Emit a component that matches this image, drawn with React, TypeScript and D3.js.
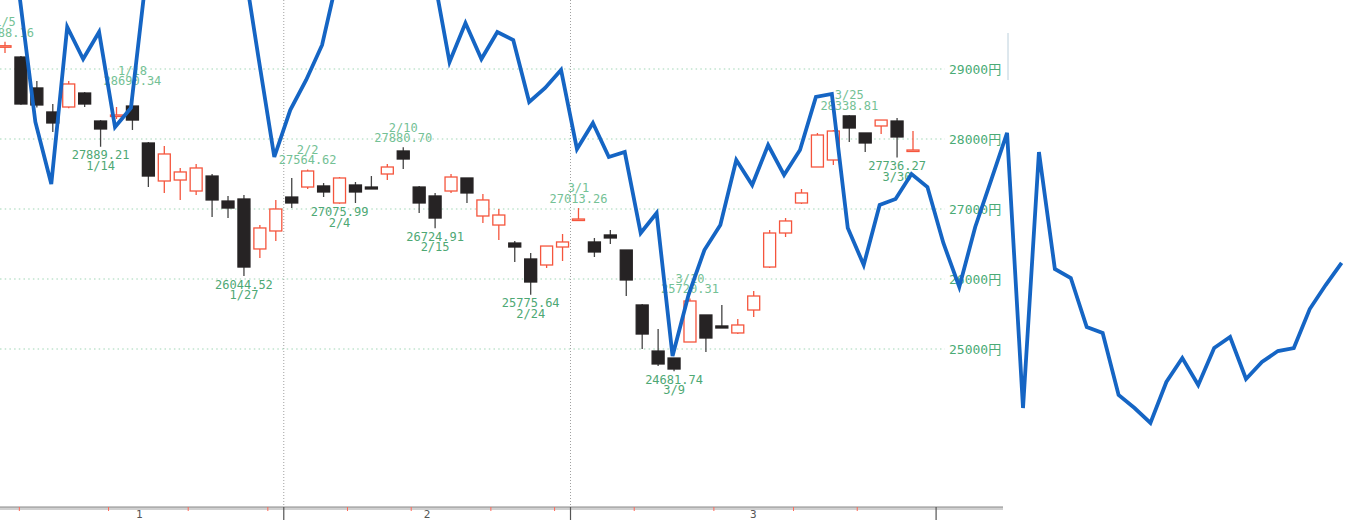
import React from "react";
import * as d3 from "d3";

const W = 1361;
const H = 528;

// Candles (trading days, Jan 5 – Mar 31)
const dates = ["1/5","1/6","1/7","1/11","1/12","1/13","1/14","1/17","1/18","1/19","1/20","1/21","1/24","1/25","1/26","1/27","1/28","1/31",
  "2/1","2/2","2/3","2/4","2/7","2/8","2/9","2/10","2/14","2/15","2/16","2/17","2/18","2/21","2/22","2/24","2/25","2/28",
  "3/1","3/2","3/3","3/4","3/7","3/8","3/9","3/10","3/11","3/14","3/15","3/16","3/17","3/18","3/22","3/23","3/24","3/25","3/28","3/29","3/30","3/31"];
const opens = [29320,29171,28729,28386,28457,28657,28257,28330,28471,27943,27400,27414,27257,27471,27114,27143,26429,26686,
  27171,27314,27329,27086,27343,27314,27500,27829,27314,27186,27257,27443,26900,26771,26514,26286,26200,26457,
  26843,26529,26629,26414,25629,24971,24871,25100,25486,25329,25229,25557,26171,26657,27086,27600,27700,28330,28086,28186,28257,27829];
const highs = [29388.16,29186,28829,28500,28829,28670,28270,28457,28690.34,27957,27900,27586,27643,27500,27186,27200,26771,27129,
  27443,27564.62,27371,27457,27386,27471,27643,27880.70,27329,27229,27500,27443,27214,27000,26543,26371,26471,26643,
  27013.26,26586,26700,26414,25643,25286,24871,25720.31,25486,25629,25429,25829,26700,26871,27286,28086,28129,28338.81,28086,28271,28300,28114];
const lows = [29229,28490,28450,28100,28440,28457,27889.21,28286,28129,27314,27229,27129,27200,26886,26871,26044.52,26300,26543,
  27014,27286,27171,27075.99,27086,27286,27414,27571,26943,26724.91,27229,27086,26800,26557,26243,25775.64,26157,26257,
  26843,26314,26500,25757,25000,24757,24681.74,25100,24957,25300,25214,25457,26157,26600,27071,27600,27629,27957,27814,28071,27736.27,27814];
const closes = [29332,28500,28486,28229,28786,28500,28143,28343,28271,27471,27786,27529,27586,27129,27014,26171,26729,27000,
  27086,27543,27243,27443,27243,27286,27600,27714,27086,26871,27457,27229,27129,26914,26457,25957,26471,26529,
  26857,26386,26586,25986,25214,24786,24714,25686,25157,25300,25343,25757,26657,26829,27229,28057,28114,28157,27943,28271,28029,27843];

// Annotated highs / lows (candle index)
const highLabelIdx = [0, 8, 19, 25, 36, 43, 53];
const lowLabelIdx = [6, 15, 21, 27, 33, 42, 56];

// Overlay blue line (index 1 .. 84), values in price units
const lineStart = 1;
const lineValues = [30057,28243,27357,29600,29143,29529,28171,28443,
  30414,31129,30986,31271,30843,31129,30629,29171,27743,28414,28843,29343,
  30343,30986,31271,30843,31414,31129,30343,29100,29657,29143,29529,29414,28529,28729,28986,
  27857,28229,27743,27814,26657,26943,24900,25771,26414,26771,27700,27343,27914,27486,27843,28600,28643,
  26729,26200,27057,27143,27500,27314,26514,25886,26743,27414,28086,
  24157,27814,26143,26014,25314,25229,24343,24157,23943,24529,24871,24486,25014,25171,24571,24814,24971,25014,25571,25914,26229];

const yTicks = [25000, 26000, 27000, 28000, 29000];
const monthEdges = [-0.63, 17.5, 35.5, 58.45];
const monthLabels = ["1", "2", "3"];
const weekTicks = [0.9, 6.5, 11.5, 16.5, 21.5, 25.5, 30.5, 34.5, 39.5, 44.5, 49.5, 53.5];

export default function App() {
  const x = d3.scaleLinear().domain([0, 57]).range([5, 913]);
  const y = d3.scaleLinear().domain([25000, 29000]).range([349, 69]);
  const bodyW = 12;
  const red = "#f5553d";
  const dark = "#262324";
  const axisY = 507;

  const line = d3
    .line<number>()
    .x((_, i) => x(i + lineStart) - 1.5)
    .y((v) => y(v));

  const mono = "'DejaVu Sans Mono', 'Liberation Mono', monospace";

  return (
    <svg
      width={W}
      height={H}
      style={{ position: "absolute", left: 0, top: 0, background: "#fff" }}
    >
      {/* horizontal grid */}
      {yTicks.map((t) => (
        <line key={"g" + t} x1={0} x2={945} y1={y(t)} y2={y(t)}
          stroke="#9fd6b5" strokeWidth={1.2} strokeDasharray="1.5,3.2" />
      ))}
      {/* y labels */}
      {yTicks.map((t) => (
        <text key={"yl" + t} x={949} y={y(t)} dy="0.36em" fontSize={13}
          fill="#4aab76" fontFamily={mono + ", 'Noto Sans CJK JP'"}>
          {t + "円"}
        </text>
      ))}
      {/* month separators */}
      {monthEdges.slice(1, 3).map((m) => (
        <line key={"ms" + m} x1={x(m)} x2={x(m)} y1={0} y2={axisY + 3}
          stroke="#a0a0a0" strokeWidth={1} strokeDasharray="1,2" />
      ))}
      {/* faint artifact line top right */}
      <line x1={1008} x2={1008} y1={33} y2={80} stroke="#bcd0dc" strokeWidth={1} />

      {/* candles */}
      {dates.map((d, i) => {
        const up = closes[i] >= opens[i];
        const cx = x(i);
        const top = y(Math.max(opens[i], closes[i]));
        const bot = y(Math.min(opens[i], closes[i]));
        const h = Math.max(bot - top, 1.5);
        return (
          <g key={"c" + d}>
            <line x1={cx} x2={cx} y1={y(highs[i])} y2={y(lows[i])}
              stroke={up ? red : "#444"} strokeWidth={1.3} />
            <rect x={cx - bodyW / 2} y={top} width={bodyW} height={h}
              fill={up ? "#fff" : dark} stroke={up ? red : dark} strokeWidth={1.3} />
          </g>
        );
      })}

      {/* high labels */}
      {highLabelIdx.map((i) => (
        <g key={"hl" + i} fontFamily={mono} fontSize={12} fill="#74c195" textAnchor="middle">
          <text x={x(i)} y={y(highs[i]) - 20} dy="0.35em">{dates[i]}</text>
          <text x={x(i)} y={y(highs[i]) - 9.5} dy="0.35em">{highs[i].toFixed(2)}</text>
        </g>
      ))}
      {/* low labels */}
      {lowLabelIdx.map((i) => (
        <g key={"ll" + i} fontFamily={mono} fontSize={12} fill="#4ea874" textAnchor="middle">
          <text x={x(i)} y={y(lows[i]) + 8.5} dy="0.35em">{lows[i].toFixed(2)}</text>
          <text x={x(i)} y={y(lows[i]) + 19} dy="0.35em">{dates[i]}</text>
        </g>
      ))}

      {/* x axis */}
      <line x1={0} x2={1003} y1={axisY + 1.5} y2={axisY + 1.5} stroke="#d0d0d0" strokeWidth={3} />
      <line x1={0} x2={1003} y1={axisY} y2={axisY} stroke="#8a8a8a" strokeWidth={1} />
      {weekTicks.map((w) => (
        <line key={"wt" + w} x1={x(w)} x2={x(w)} y1={axisY} y2={axisY + 4}
          stroke="#ff6a5a" strokeWidth={1} />
      ))}
      {monthEdges.slice(1).map((m) => (
        <line key={"mt" + m} x1={x(m)} x2={x(m)} y1={axisY} y2={axisY + 13}
          stroke="#555" strokeWidth={1.2} />
      ))}
      {monthLabels.map((l, k) => (
        <text key={"mlab" + l} x={(x(monthEdges[k]) + x(monthEdges[k + 1])) / 2} y={axisY + 7}
          dy="0.35em" fontSize={11} fill="#555" textAnchor="middle" fontFamily={mono}>
          {l}
        </text>
      ))}

      {/* blue overlay line */}
      <path d={line(lineValues) || ""} fill="none" stroke="#1565c4" strokeWidth={3.8}
        strokeLinejoin="miter" />
    </svg>
  );
}
